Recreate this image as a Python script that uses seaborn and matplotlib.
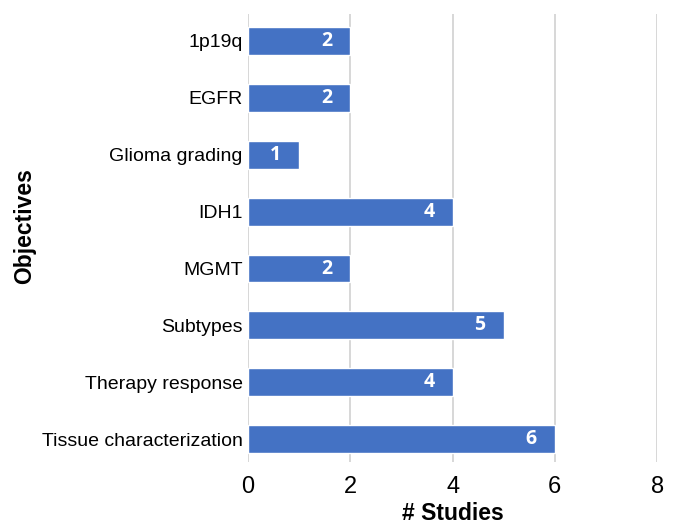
import pandas as pd
import matplotlib.pyplot as plt
import seaborn as sns

# chart data
objectives = ["1p19q", "EGFR", "Glioma grading", "IDH1", "MGMT",
              "Subtypes", "Therapy response", "Tissue characterization"]
studies = [2, 2, 1, 4, 2, 5, 4, 6]

df = pd.DataFrame({"Objectives": objectives, "# Studies": studies})

sns.set_style("white")
plt.rcParams["font.family"] = ["Liberation Sans", "DejaVu Sans"]

fig = plt.figure(figsize=(6.76, 5.25), dpi=100)
ax = fig.add_axes([0.367, 0.12, 0.605, 0.853])

sns.barplot(data=df, x="# Studies", y="Objectives", color="#4472C4",
            saturation=1, width=0.49, ax=ax, zorder=3)

# value labels inside the bar end
for patch, v in zip(ax.patches, studies):
    ax.annotate(str(v), xy=(patch.get_width(), patch.get_y() + patch.get_height() / 2),
                xytext=(-13, 0), textcoords="offset points",
                ha="right", va="center", color="white", fontweight="bold",
                fontsize=14, family=["Open Sans", "DejaVu Sans"], zorder=4)

ax.set_xlim(0, 8)
ax.set_xticks([0, 2, 4, 6, 8])
ax.set_ylim(7.4, -0.47)
ax.grid(axis="x", color="#d4d4d4", linewidth=1.3, zorder=0)
for s in ax.spines.values():
    s.set_visible(False)
ax.tick_params(axis="both", length=0, labelcolor="black")
ax.tick_params(axis="y", labelsize=14, pad=4)
ax.tick_params(axis="x", labelsize=17, pad=10)

ax.set_xlabel("# Studies", fontsize=16.5, fontweight="bold", color="black")
ax.xaxis.set_label_coords(0.5, -0.089)
ax.set_ylabel("Objectives", fontsize=16.5, fontweight="bold", color="black")
ax.yaxis.set_label_coords(-0.518, 0.527)

fig.savefig("out.png", dpi=100)
